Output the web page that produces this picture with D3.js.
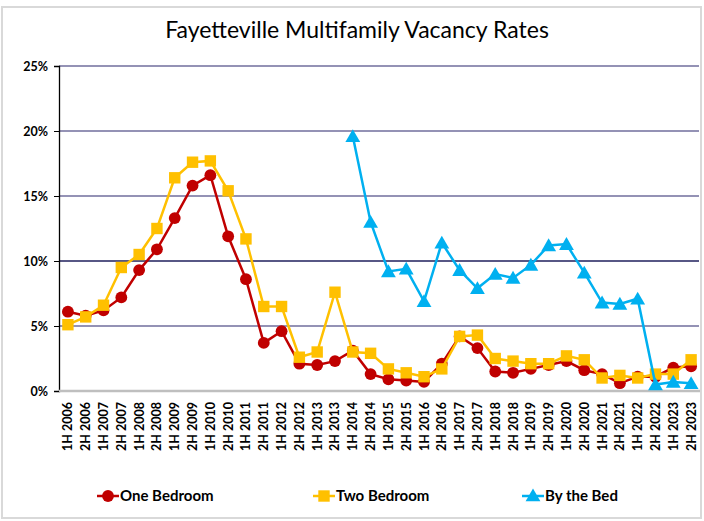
<!DOCTYPE html>
<html>
<head>
<meta charset="utf-8">
<script src="https://cdn.jsdelivr.net/npm/d3@7.9.0/dist/d3.min.js"></script>
<style>
  body { margin: 0; background: #fff; }
  svg { display: block; font-family: Lato, "Open Sans", sans-serif; }
</style>
</head>
<body>
<svg width="704" height="521"></svg>
<script>
const periods = [];
for (let yr = 2006; yr <= 2023; yr++) {
  periods.push(`1H ${yr}`, `2H ${yr}`);
}

const oneBedroom = [6.1, 5.8, 6.2, 7.2, 9.3, 10.9, 13.3, 15.8, 16.6, 11.9, 8.6, 3.7,
  4.6, 2.1, 2.0, 2.3, 3.1, 1.3, 0.9, 0.8, 0.7, 2.1, 4.2, 3.3,
  1.5, 1.4, 1.7, 2.0, 2.3, 1.6, 1.3, 0.6, 1.1, 1.1, 1.8, 1.9];

const twoBedroom = [5.1, 5.7, 6.6, 9.5, 10.5, 12.5, 16.4, 17.6, 17.7, 15.4, 11.7, 6.5,
  6.5, 2.6, 3.0, 7.6, 3.0, 2.9, 1.7, 1.4, 1.1, 1.7, 4.2, 4.3,
  2.5, 2.3, 2.1, 2.1, 2.7, 2.4, 1.0, 1.2, 1.0, 1.3, 1.3, 2.4];

const byTheBed = [null, null, null, null, null, null, null, null, null, null, null, null,
  null, null, null, null, 19.6, 13.0, 9.2, 9.4, 6.9, 11.4, 9.3, 7.9,
  9.0, 8.7, 9.7, 11.2, 11.3, 9.1, 6.8, 6.7, 7.1, 0.5, 0.7, 0.6];

const yTicks = [0, 5, 10, 15, 20, 25];

const series = [
  { name: 'One Bedroom', values: oneBedroom, color: '#C00000', symbol: d3.symbolCircle, size: 110 },
  { name: 'Two Bedroom', values: twoBedroom, color: '#FFC000', symbol: d3.symbolSquare, size: 130 },
  { name: 'By the Bed', values: byTheBed, color: '#00B0F0', symbol: d3.symbolTriangle, size: 95 }
];

const svg = d3.select('svg');

// outer frame
svg.append('rect')
  .attr('x', 2).attr('y', 7).attr('width', 699).attr('height', 511)
  .attr('fill', '#fff').attr('stroke', '#d9d9d9').attr('stroke-width', 2);

svg.append('text')
  .attr('x', 357).attr('y', 38)
  .attr('text-anchor', 'middle')
  .attr('font-size', 23)
  .attr('fill', '#000')
  .text('Fayetteville Multifamily Vacancy Rates');

const x = d3.scaleBand().domain(periods).range([59, 700]);
const y = d3.scaleLinear().domain([0, 25]).range([391, 66]);
const cx = (i) => x(periods[i]) + x.bandwidth() / 2;

// gridlines
svg.append('g')
  .selectAll('line')
  .data(yTicks.filter((t) => t > 0))
  .join('line')
  .attr('x1', 59).attr('x2', 699)
  .attr('y1', (d) => y(d)).attr('y2', (d) => y(d))
  .attr('stroke', (d) => d === 10 ? '#1f1f5c' : '#716e9c')
  .attr('stroke-width', 1.4);

// y axis
const yAxis = svg.append('g')
  .attr('transform', 'translate(59,0)')
  .call(d3.axisLeft(y).tickValues(yTicks).tickFormat((d) => d + '%').tickSize(5).tickPadding(6));
yAxis.select('.domain').attr('stroke', '#000').attr('stroke-width', 1.3);
yAxis.selectAll('.tick line').attr('stroke', '#000');
yAxis.selectAll('.tick text')
  .attr('font-family', 'Lato, sans-serif')
  .attr('font-size', 12.5).attr('font-weight', 'bold').attr('fill', '#000');

// baseline
svg.append('line')
  .attr('x1', 59).attr('x2', 700)
  .attr('y1', y(0)).attr('y2', y(0))
  .attr('stroke', '#bfbfbf').attr('stroke-width', 2.5);

// x labels
const xAxis = svg.append('g')
  .attr('transform', `translate(0,${y(0)})`)
  .call(d3.axisBottom(x).tickSize(0).tickPadding(0));
xAxis.select('.domain').remove();
xAxis.selectAll('.tick text')
  .attr('font-family', 'Lato, sans-serif')
  .attr('font-size', 12.5).attr('font-weight', 'bold').attr('fill', '#000')
  .attr('transform', 'rotate(-90)')
  .attr('text-anchor', 'end')
  .attr('x', -11).attr('y', 0).attr('dy', '0.36em');

// lines and markers
series.forEach((s) => {
  const pts = s.values.map((v, i) => ({ i, v })).filter((d) => d.v !== null);
  const line = d3.line().x((d) => cx(d.i)).y((d) => y(d.v));
  svg.append('path')
    .attr('d', line(pts))
    .attr('fill', 'none')
    .attr('stroke', s.color)
    .attr('stroke-width', 2.5);
  svg.append('g')
    .selectAll('path')
    .data(pts)
    .join('path')
    .attr('transform', (d) => `translate(${cx(d.i)},${y(d.v) + (s.symbol === d3.symbolTriangle ? 1.5 : 0)})`)
    .attr('d', d3.symbol(s.symbol, s.size))
    .attr('fill', s.color);
});

// legend
const legendX = [97, 313, 522];
series.forEach((s, k) => {
  const g = svg.append('g').attr('transform', `translate(${legendX[k]},496)`);
  g.append('line').attr('x1', 0).attr('x2', 22).attr('stroke', s.color).attr('stroke-width', 2.5);
  g.append('path')
    .attr('transform', `translate(11,${s.symbol === d3.symbolTriangle ? 1 : 0})`)
    .attr('d', d3.symbol(s.symbol, s.size))
    .attr('fill', s.color);
  g.append('text')
    .attr('x', 23).attr('y', 0).attr('dy', '0.35em')
    .attr('font-size', 15).attr('font-weight', 'bold').attr('fill', '#000')
    .text(s.name);
});
</script>
</body>
</html>
